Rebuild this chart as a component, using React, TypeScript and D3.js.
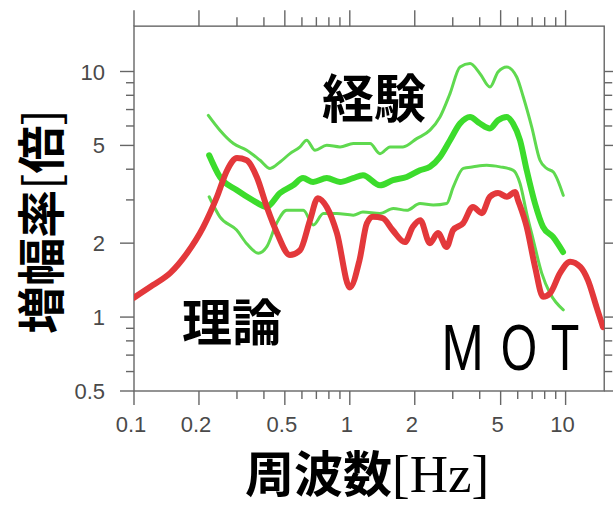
import React from 'react';
import * as d3 from 'd3';

const W = 613;
const H = 506;

// Theoretical amplification (red)
const freqTheory = [0.1, 0.1225, 0.147, 0.176, 0.209, 0.242, 0.27, 0.3, 0.333, 0.371, 0.413, 0.46, 0.528, 0.588, 0.654, 0.711, 0.783, 0.871, 1.0, 1.11, 1.2, 1.28, 1.42, 1.58, 1.8, 1.96, 2.12, 2.35, 2.56, 2.81, 3.01, 3.35, 3.72, 4.09, 4.46, 4.86, 5.34, 5.83, 6.02, 6.6, 7.22, 7.86, 8.47, 9.42, 10.5, 11.7, 12.7, 13.9, 14.9];
const ampTheory = [1.2, 1.35, 1.51, 1.82, 2.32, 3.08, 3.96, 4.44, 4.35, 3.71, 2.8, 2.2, 1.79, 1.87, 2.48, 3.05, 2.8, 2.2, 1.32, 1.71, 2.41, 2.56, 2.53, 2.26, 2.02, 2.33, 2.48, 2.0, 2.2, 1.93, 2.26, 2.41, 2.81, 2.65, 3.09, 3.2, 3.09, 3.23, 2.99, 2.33, 1.6, 1.21, 1.25, 1.51, 1.68, 1.6, 1.41, 1.1, 0.91];

// Empirical amplification: mean (thick green)
const freqMean = [0.223, 0.25, 0.299, 0.356, 0.412, 0.475, 0.546, 0.607, 0.676, 0.782, 0.901, 1.035, 1.151, 1.38, 1.585, 1.835, 2.115, 2.353, 2.618, 2.913, 3.241, 3.606, 4.012, 4.463, 4.862, 5.336, 5.706, 6.15, 6.604, 7.215, 7.858, 8.744, 9.73];
const ampMean = [4.56, 3.72, 3.29, 2.99, 2.81, 3.2, 3.44, 3.68, 3.55, 3.68, 3.55, 3.68, 3.78, 3.44, 3.61, 3.72, 3.96, 4.09, 4.49, 5.25, 6.14, 6.53, 6.14, 5.86, 6.33, 6.53, 6.14, 5.25, 3.96, 2.9, 2.33, 2.12, 1.84];

// Empirical amplification: mean + sigma (thin green)
const freqUpper = [0.221, 0.25, 0.289, 0.333, 0.384, 0.427, 0.475, 0.528, 0.588, 0.631, 0.69, 0.782, 0.901, 1.038, 1.241, 1.38, 1.536, 1.764, 2.042, 2.353, 2.618, 2.913, 3.241, 3.606, 4.012, 4.463, 4.862, 5.336, 5.935, 6.368, 6.965, 7.609, 8.174, 8.77, 9.757];
const ampUpper = [6.63, 5.77, 5.09, 4.78, 4.35, 4.03, 4.28, 4.63, 4.93, 5.25, 4.78, 5.01, 4.93, 5.09, 5.09, 4.63, 4.93, 4.93, 5.33, 5.77, 6.53, 8.13, 10.43, 10.77, 9.8, 8.65, 9.95, 10.43, 9.5, 7.87, 5.95, 4.35, 4.03, 3.9, 3.13];

// Empirical amplification: mean - sigma (thin green)
const freqLower = [0.223, 0.25, 0.299, 0.333, 0.377, 0.412, 0.458, 0.51, 0.609, 0.678, 0.754, 0.87, 1.038, 1.151, 1.38, 1.59, 1.835, 2.115, 2.437, 2.812, 3.018, 3.357, 3.735, 4.309, 4.966, 5.725, 6.15, 6.604, 7.085, 7.75, 8.469, 9.757];
const ampLower = [3.09, 2.56, 2.26, 1.99, 1.82, 1.93, 2.41, 2.72, 2.72, 2.37, 2.64, 2.64, 2.6, 2.68, 2.64, 2.77, 2.72, 2.9, 2.86, 2.9, 3.39, 4.03, 4.09, 4.15, 4.09, 3.96, 3.5, 2.64, 2.06, 1.51, 1.25, 1.07];

const xMajor = [0.1, 0.2, 0.5, 1, 2, 5, 10];
const xMajorLabels = ['0.1', '0.2', '0.5', '1', '2', '5', '10'];
const xMinor = [0.3, 0.4, 0.6, 0.7, 0.8, 0.9, 3, 4, 6, 7, 8, 9];
const yMajor = [0.5, 1, 2, 5, 10];
const yMajorLabels = ['0.5', '1', '2', '5', '10'];
const yMinor = [0.6, 0.7, 0.8, 0.9, 3, 4, 6, 7, 8, 9];

const xScale = d3.scaleLog().domain([0.1, 10]).range([134, 565.6]);
const yScale = d3.scaleLog().domain([0.5, 10]).range([391, 71.5]);

const left = xScale(0.1);
const right = xScale(15.1);
const bottom = yScale(0.5);
const top = yScale(15.3);

const MAJOR = 14;
const MINOR = 8;
const AXIS = '#666';
const TICK_TEXT = '#4a4a4a';
const CJK = '"Noto Sans CJK JP", "Noto Sans CJK SC", sans-serif';

function pathFor(fs: number[], vs: number[]) {
  const line = d3
    .line<number>()
    .x((_, i) => xScale(fs[i]))
    .y((_, i) => yScale(vs[i]))
    .curve(d3.curveMonotoneX);
  return line(fs) || '';
}

export default function App() {
  return (
    <svg
      width={W}
      height={H}
      viewBox={`0 0 ${W} ${H}`}
      style={{ position: 'absolute', left: 0, top: 0, background: '#fff' }}
    >
      <defs>
        <clipPath id="plot-area">
          <rect x={left} y={top} width={right - left} height={bottom - top} />
        </clipPath>
      </defs>
      <rect x={0} y={0} width={W} height={H} fill="#fff" />

      {/* frame */}
      <rect x={left} y={top} width={right - left} height={bottom - top} fill="none" stroke={AXIS} strokeWidth={1.4} />

      {/* ticks on all four sides, pointing outward */}
      <g stroke={AXIS} strokeWidth={1.4}>
        {xMajor.map((f) => (
          <g key={`xM${f}`}>
            <line x1={xScale(f)} x2={xScale(f)} y1={bottom} y2={bottom + MAJOR} />
            <line x1={xScale(f)} x2={xScale(f)} y1={top} y2={top - MAJOR - 2} />
          </g>
        ))}
        {xMinor.map((f) => (
          <g key={`xm${f}`}>
            <line x1={xScale(f)} x2={xScale(f)} y1={bottom} y2={bottom + MINOR} />
            <line x1={xScale(f)} x2={xScale(f)} y1={top} y2={top - MINOR - 1} />
          </g>
        ))}
        {yMajor.map((v) => (
          <g key={`yM${v}`}>
            <line x1={left} x2={left - MAJOR} y1={yScale(v)} y2={yScale(v)} />
            <line x1={right} x2={right + MAJOR} y1={yScale(v)} y2={yScale(v)} />
          </g>
        ))}
        {yMinor.map((v) => (
          <g key={`ym${v}`}>
            <line x1={left} x2={left - MINOR} y1={yScale(v)} y2={yScale(v)} />
            <line x1={right} x2={right + MINOR} y1={yScale(v)} y2={yScale(v)} />
          </g>
        ))}
      </g>

      {/* tick labels */}
      <g fill={TICK_TEXT} fontFamily="'Liberation Sans', Arial, sans-serif" fontSize={22}>
        {xMajor.map((f, i) => (
          <text key={`xl${f}`} x={xScale(f) - 3} y={432} textAnchor="middle">
            {xMajorLabels[i]}
          </text>
        ))}
        {yMajor.map((v, i) => (
          <text key={`yl${v}`} x={105} y={yScale(v) + 8} textAnchor="end">
            {yMajorLabels[i]}
          </text>
        ))}
      </g>

      {/* curves */}
      <g clipPath="url(#plot-area)" fill="none" strokeLinejoin="round" strokeLinecap="round">
        <path d={pathFor(freqUpper, ampUpper)} stroke="#5fd94f" strokeWidth={3} />
        <path d={pathFor(freqLower, ampLower)} stroke="#5fd94f" strokeWidth={3} />
        <path d={pathFor(freqMean, ampMean)} stroke="#3cdc2c" strokeWidth={6} />
        <path d={pathFor(freqTheory, ampTheory)} stroke="#e3383b" strokeWidth={6} />
      </g>

      {/* annotations */}
      <text x={322} y={118} fontFamily={CJK} fontWeight={700} fontSize={52} fill="#000">
        経験
      </text>
      <text x={182} y={341} fontFamily={CJK} fontWeight={700} fontSize={50} fill="#000">
        理論
      </text>
      <g fontFamily="'Liberation Sans', Arial, sans-serif" fontSize={65} fill="#000" textAnchor="middle">
        <text transform={`translate(462.5,370) scale(0.78,1)`}>M</text>
        <text transform={`translate(519,370) scale(0.72,1)`}>O</text>
        <text transform={`translate(565,370) scale(0.72,1)`}>T</text>
      </g>

      {/* axis titles */}
      <text
        transform="translate(37.5,221.5) rotate(-90)"
        textAnchor="middle"
        dominantBaseline="central"
        fontFamily={CJK}
        fontSize={48}
        fill="#000"
      >
        <tspan fontWeight={700}>増幅率</tspan>
        <tspan fontWeight={400}>[</tspan>
        <tspan fontWeight={700}>倍</tspan>
        <tspan fontWeight={400}>]</tspan>
      </text>
      <text x={245} y={492} fill="#000">
        <tspan fontFamily={CJK} fontWeight={700} fontSize={49}>周波数</tspan>
        <tspan fontFamily="'Liberation Serif', 'Times New Roman', serif" fontSize={53}>[Hz]</tspan>
      </text>
    </svg>
  );
}
